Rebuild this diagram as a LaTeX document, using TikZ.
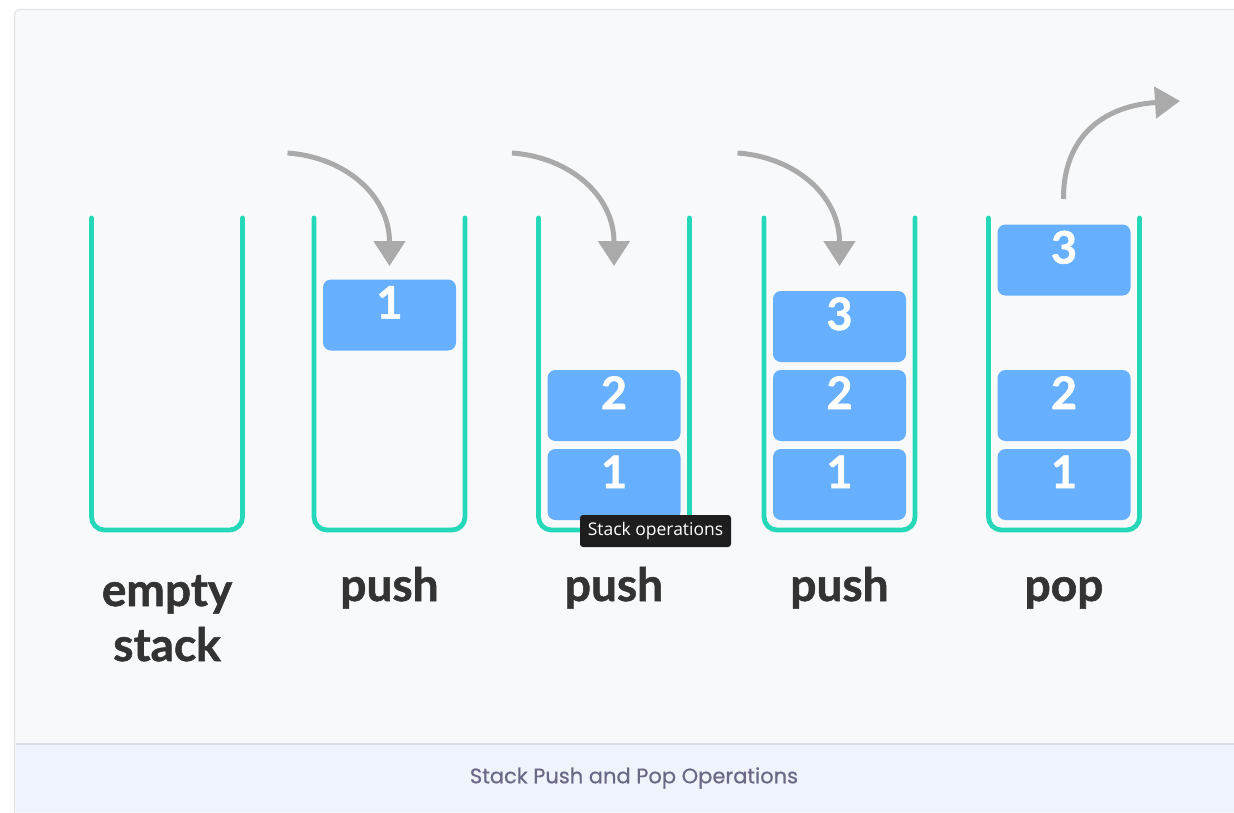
\documentclass[tikz,border=0pt]{standalone}
\usepackage{fontspec}
\usetikzlibrary{arrows.meta}
\newfontfamily\lato[BoldFeatures={FakeBold=1.2}]{Lato}
\newfontfamily\pop[FakeBold=0.6]{Poppins}
\newfontfamily\tipfont{Open Sans}
\definecolor{pagebg}{HTML}{FFFFFF}
\definecolor{panelbg}{HTML}{F8F9FB}
\definecolor{panelline}{HTML}{E2E4E8}
\definecolor{capbg}{HTML}{EFF3FC}
\definecolor{capline}{HTML}{DADEE4}
\definecolor{captext}{HTML}{6A6985}
\definecolor{frameteal}{HTML}{26D8BA}
\definecolor{itemblue}{HTML}{66B0FF}
\definecolor{labeltext}{HTML}{333333}
\definecolor{arrowgray}{HTML}{AAAAAA}
\definecolor{tipbg}{HTML}{1E1E1E}
\tikzset{
  stackframe/.style={draw=frameteal, line width=4.8pt, rounded corners=13pt, line cap=round},
  item/.style={fill=itemblue, rounded corners=8pt, minimum width=133pt, minimum height=71pt,
    inner sep=0pt, text=white, text height=0.72em, text depth=0pt,
    font=\lato\bfseries\fontsize{45}{45}\selectfont},
  oplabel/.style={anchor=base, text=labeltext, font=\lato\bfseries\fontsize{46}{46}\selectfont},
  moveto/.style={draw=arrowgray, line width=5pt,
    -{Triangle[width=31pt,length=25pt]}},
}
\begin{document}
\begin{tikzpicture}[x=1pt,y=-1pt]
\useasboundingbox (0,0) rectangle (1234,812);
\clip (0,0) rectangle (1234,812);
% page and card
\fill[pagebg] (0,0) rectangle (1234,812);
\draw[panelline, fill=panelbg, line width=1.2pt, rounded corners=6pt] (14.5,9.5) rectangle (1260,900);
% caption band
\fill[capbg] (15.5,744) rectangle (1234,812);
\draw[capline, line width=1.2pt] (15.5,744) -- (1234,744);
\node[text=captext, font=\pop\fontsize{21}{22}\selectfont] (caption) at (634,778) {Stack Push and Pop Operations};

% stack containers
\foreach \n/\cx in {1/167, 2/389.5, 3/614, 4/839.5, 5/1064} {
  \coordinate (top\n) at (\cx,218);
  \draw[stackframe] (\cx-75.5,218) -- (\cx-75.5,530) -- (\cx+75.5,530) -- (\cx+75.5,218);
}

% stack items
\node[item] (b21) at (389.5,315) {1};

\node[item] (b31) at (614,484.5) {1};
\node[item] (b32) at (614,405.5) {2};

\node[item] (b41) at (839.5,484.5) {1};
\node[item] (b42) at (839.5,405.5) {2};
\node[item] (b43) at (839.5,326.5) {3};

\node[item] (b51) at (1064,484.5) {1};
\node[item] (b52) at (1064,405.5) {2};
\node[item] (b53) at (1064,260) {3};

% push / pop arrows
\foreach \n/\cx in {2/389.5, 3/614, 4/839.5} {
  \coordinate (in\n) at (\cx-102,153);
  \coordinate (down\n) at (\cx,266);
  \draw[moveto] (in\n) .. controls (\cx-45,157) and (\cx,195) .. (down\n);
}
\coordinate (popstart) at (1063.5,199);
\coordinate (popend) at (1180,101);
\draw[moveto] (popstart) .. controls (1063,140) and (1100,106) .. (popend);

% operation labels
\node[oplabel] (l1a) at (167,606) {empty};
\node[oplabel] (l1b) at (167,661) {stack};
\node[oplabel] (l2) at (389.5,601) {push};
\node[oplabel] (l3) at (614,601) {push};
\node[oplabel] (l4) at (839.5,601) {push};
\node[oplabel] (l5) at (1064,601) {pop};

% tooltip
\node[fill=tipbg, rounded corners=3pt, text=white, inner sep=0pt,
      minimum width=151pt, minimum height=32pt,
      font=\tipfont\fontsize{17.5}{18}\selectfont] (tip) at (655.5,531) {Stack operations};
\end{tikzpicture}
\end{document}
